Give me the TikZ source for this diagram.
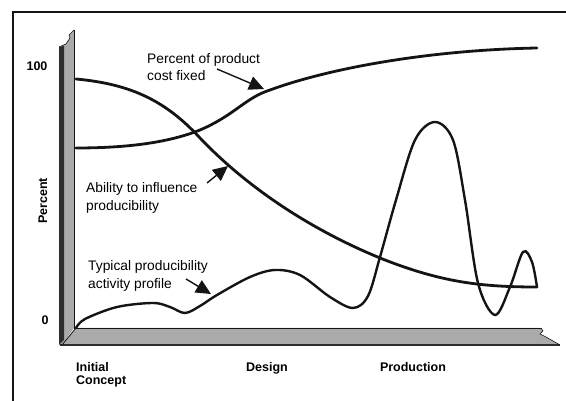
\documentclass[tikz,border=0pt]{standalone}
\usepackage{fontspec}
\setmainfont{Liberation Sans}
\usepackage{xcolor}
\usetikzlibrary{arrows.meta}
\definecolor{inkBlack}{RGB}{20, 20, 20}
\definecolor{wallGray}{RGB}{170, 170, 170}
\definecolor{wallDark}{RGB}{45, 45, 45}

\begin{document}
\begin{tikzpicture}[x=1pt,y=-1pt,
    curve/.style={inkBlack,line width=2.8pt,line cap=round},
    callout/.style={font=\fontsize{13.8}{17.5}\selectfont,align=left,anchor=west,inner sep=0pt},
    axislabel/.style={font=\fontsize{12.5}{13.5}\selectfont\bfseries,inner sep=0pt},
    pointer/.style={-{Triangle[length=15pt,width=14pt]},line width=1.4pt,inkBlack}]
            \useasboundingbox (0,0) rectangle (566,401);

            % Frame
            \draw[inkBlack,line width=1.6pt] (13,401) -- (13,12) -- (566,12);

            % Wall and floor
            \fill[wallGray] (59,345) -- (59,47) -- (66,44) -- (70,38) -- (69,35) -- (74,30) -- (74,328) -- (62,345) -- cycle;
            \fill[wallDark] (59,345) -- (59,47) -- (64,46) -- (64,340) -- cycle;
            \fill[wallGray] (62,345) -- (76,328) -- (541,328) -- (543,331) -- (540,334) -- (546,337) -- (560,345) -- cycle;
            \draw[wallDark,line width=1.5pt] (60,345) -- (560,345);
            \draw[inkBlack,line width=0.8pt] (74,30) -- (74,328) -- (541,328);
            \draw[inkBlack,line width=0.8pt] (62,345) -- (76,328);
            \draw[inkBlack,line width=0.6pt] (59,47) -- (66,44) -- (70,38) -- (69,35) -- (74,30);
            \draw[inkBlack,line width=0.6pt] (541,328) -- (543,331) -- (540,334) -- (546,337) -- (560,345);

            % Curves
            \draw[curve] (76,148) .. controls (130,148) and (170,142) .. (200,130)
                .. controls (235,115) and (245,98) .. (270,90)
                .. controls (330,68) and (430,50) .. (537,48);
            \draw[curve] (76,79) .. controls (130,84) and (165,100) .. (200,138)
                .. controls (240,180) and (300,225) .. (380,258)
                .. controls (440,282) and (480,287) .. (537,287);
            \draw[curve,line width=2.4pt] plot[smooth,tension=0.55] coordinates {(76,328) (85,319) (117,307) (153,303) (170,307) (185,313) (200,306) (217,295) (250,277) (275,270) (300,275) (330,297) (353,308) (368,296) (380,257) (396,200) (415,140) (435,122) (453,140) (465,200) (478,283) (495,315) (510,287) (523,252) (532,262) (537,287)};

            % Points on curves
            \coordinate (costPt) at (264,89);
            \coordinate (abilityPt) at (228,166);
            \coordinate (activityPt) at (211,294);
            \coordinate (costTail) at (217,69);
            \coordinate (abilityTail) at (207,183);
            \coordinate (activityTail) at (186,279);

            % Labels
            \node[callout] (costLbl) at (147,67) {Percent of product\\cost fixed};
            \node[callout] (abilityLbl) at (86,198) {Ability to influence\\producibility};
            \node[callout] (activityLbl) at (88,276) {Typical producibility\\activity profile};

            % Pointers
            \draw[pointer] (costTail) -- (costPt);
            \draw[pointer] (abilityTail) -- (abilityPt);
            \draw[pointer] (activityTail) -- (activityPt);

            % Axis labels
            \node[axislabel] (yTop) at (37,66) {100};
            \node[axislabel] (yZero) at (45,320) {0};
            \node[axislabel,rotate=90] (yName) at (43,201) {Percent};
            \node[axislabel,align=left,anchor=west] (xInit) at (76,375) {Initial\\Concept};
            \node[axislabel] (xDesign) at (267,368) {Design};
            \node[axislabel] (xProd) at (413,367) {Production};
        \end{tikzpicture}
\end{document}
